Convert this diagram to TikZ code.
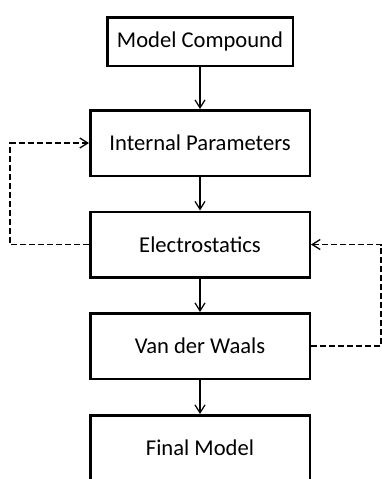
\documentclass[tikz,border=0pt]{standalone}
\usepackage{fontspec}
\setmainfont{Carlito}
\usetikzlibrary{arrows.meta}
\begin{document}
\begin{tikzpicture}[x=1pt,y=-1pt,
  box/.style={draw, line width=2.5pt, minimum width=219.5pt, minimum height=65.5pt, inner sep=0pt, font=\fontsize{22.6}{26}\selectfont},
  flow/.style={line width=1.2pt, -{Straight Barb[length=8pt,width=10pt]}},
  loop/.style={line width=1.3pt, dash pattern=on 6pt off 3pt, -{Straight Barb[length=8pt,width=10pt]}}]
\clip (0,0) rectangle (382,479);
\useasboundingbox (0,0) rectangle (382,479);
\node[box, minimum width=185.5pt, minimum height=48.5pt] (mc) at (200,41.5) {Model Compound};
\node[box] (ip) at (200,143) {Internal Parameters};
\node[box] (es) at (200,244.5) {Electrostatics};
\node[box] (vw) at (200,346) {Van der Waals};
\node[box] (fm) at (200,448) {Final Model};
\draw[flow] (mc) -- (ip);
\draw[flow] (ip) -- (es);
\draw[flow] (es) -- (vw);
\draw[flow] (vw) -- (fm);
\draw[loop] (es.west) -- ++(-79,0) |- (ip.west);
\draw[loop] (vw.east) -- ++(70,0) |- (es.east);
\end{tikzpicture}
\end{document}
